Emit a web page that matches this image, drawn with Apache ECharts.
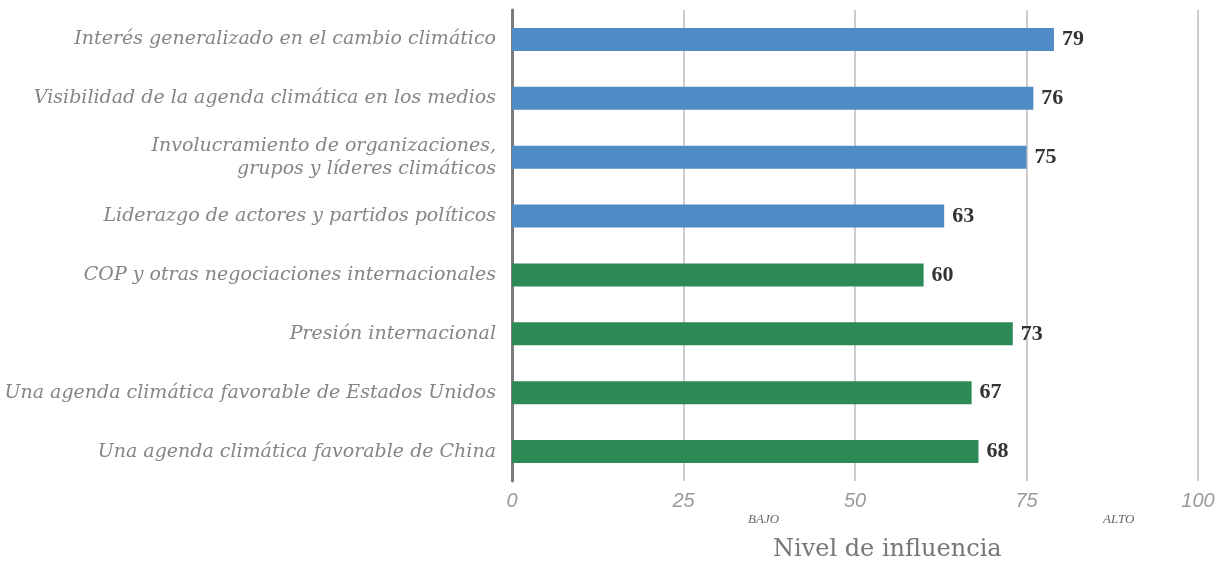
<!DOCTYPE html>
<html><head><meta charset="utf-8">
<script src="https://cdn.jsdelivr.net/npm/echarts@6/dist/echarts.min.js"></script>
<style>html,body{margin:0;padding:0;background:#fff}#c{width:1220px;height:567px}</style>
</head><body><div id="c"></div>
<script>
var categories = [
  "Interés generalizado en el cambio climático",
  "Visibilidad de la agenda climática en los medios",
  "Involucramiento de organizaciones,\ngrupos y líderes climáticos",
  "Liderazgo de actores y partidos políticos",
  "COP y otras negociaciones internacionales",
  "Presión internacional",
  "Una agenda climática favorable de Estados Unidos",
  "Una agenda climática favorable de China"
];
var values = [79, 76, 75, 63, 60, 73, 67, 68];
var groups = ["blue","blue","blue","blue","green","green","green","green"];
var colorMap = {blue: "#4f8bc4", green: "#2b8a55"};
var xTicks = [0, 25, 50, 75, 100];

var chart = echarts.init(document.getElementById('c'), null, {renderer: 'canvas'});
chart.setOption({
  animation: false,
  backgroundColor: '#ffffff',
  grid: {left: 512, right: 22, top: 10, bottom: 86},
  xAxis: {
    type: 'value', min: 0, max: 100, interval: 25,
    axisLine: {show: false}, axisTick: {show: false},
    splitLine: {lineStyle: {color: '#cccccc', width: 2}},
    axisLabel: {color: '#9a9a9a', fontSize: 20, fontStyle: 'italic', fontFamily: 'Liberation Sans Narrow, Liberation Sans, sans-serif', margin: 10,
      formatter: function(v){ return xTicks.indexOf(v) >= 0 ? String(v) : ''; }}
  },
  yAxis: {
    type: 'category', data: categories, inverse: true,
    axisLine: {show: true, lineStyle: {color: '#7a7a7a', width: 3}},
    axisTick: {show: false},
    axisLabel: {color: '#858585', fontSize: 19, fontStyle: 'italic', fontFamily: 'DejaVu Serif, serif', margin: 16, align: 'right', lineHeight: 23}
  },
  series: [{
    type: 'bar', barWidth: 23,
    data: values.map(function(v, i){ return {value: v, itemStyle: {color: colorMap[groups[i]]}}; }),
    label: {show: true, position: 'right', distance: 8, color: '#333333', fontSize: 22, fontWeight: 'bold', fontFamily: 'Liberation Serif, serif'}
  }],
  graphic: [
    {type: 'text', left: 748, top: 513, style: {text: 'BAJO', fill: '#666', font: 'italic 13px "Liberation Serif", serif'}},
    {type: 'text', left: 1103, top: 513, style: {text: 'ALTO', fill: '#666', font: 'italic 13px "Liberation Serif", serif'}},
    {type: 'text', left: 773, top: 538, style: {text: 'Nivel de influencia', fill: '#777', font: '24px "DejaVu Serif", serif'}}
  ]
});
</script></body></html>
